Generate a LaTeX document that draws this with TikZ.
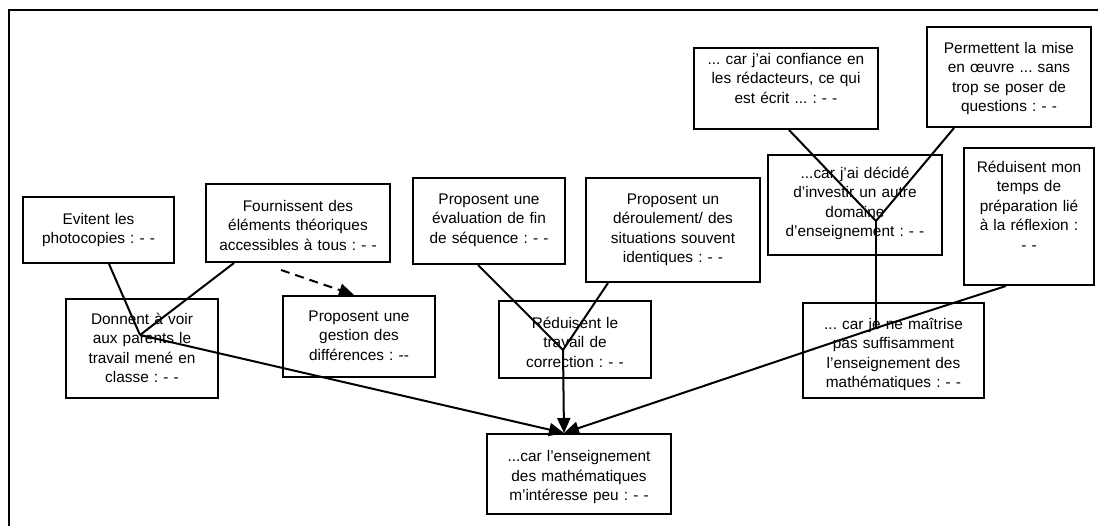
\documentclass[tikz,border=0pt]{standalone}
\usepackage{fontspec}
\setmainfont{Liberation Sans}
\frenchspacing
\usetikzlibrary{arrows.meta,calc}
\tikzset{
  boxst/.style={draw, line width=2pt, inner xsep=2pt, inner ysep=0pt, align=center,
    font=\fontsize{15.4}{19.5}\selectfont},
  conn/.style={line width=2pt},
  arr/.style={line width=2pt, -{Triangle[length=15pt,width=13pt]}},
  darr/.style={line width=2pt, dash pattern=on 9pt off 6pt, -{Triangle[length=15pt,width=13pt]}},
  frame/.style={line width=2.2pt}
}
\newcommand\mkbox[7]{%
  \pgfmathsetmacro\bxw{#4-#2-4}%
  \pgfmathsetmacro\bxh{#6+5.5}%
  \pgfmathsetmacro\bxd{#5-#3-#6-5.5}%
  \node[boxst, text width=\bxw pt, text height=\bxh pt, text depth=\bxd pt, anchor=north west] (#1) at (#2,#3) {#7};}
\begin{document}
\begin{tikzpicture}[x=1pt,y=-1pt]
\useasboundingbox[fill=white] (0,0) rectangle (1098,526);
% frame (top and left edges visible)
\coordinate (fa) at (9,526);
\coordinate (fb) at (9,10);
\coordinate (fc) at (1098,10);
\draw[frame] (fa) -- (fb) -- (fc);
% boxes
\mkbox{evi}{22}{196}{173}{262}{22}{Evitent les\\photocopies : - -}
\mkbox{fou}{205}{183}{389}{261}{22}{Fournissent des\\éléments théoriques\\accessibles à tous : - -}
\mkbox{don}{65}{298}{217}{397}{20}{Donnent à voir\\aux parents le\\travail mené en\\classe : - -}
\mkbox{ges}{282}{295}{434}{376}{20}{Proposent une\\gestion des\\différences : -{}-}
\mkbox{eva}{412}{177}{564}{263}{21}{Proposent une\\évaluation de fin\\de séquence : - -}
\mkbox{der}{585}{177}{759}{281}{21}{Proposent un\\déroulement/ des\\situations souvent\\identiques : - -}
\mkbox{cor}{498}{300}{650}{377}{22}{Réduisent le\\travail de\\correction : - -}
\mkbox{con}{693}{47}{877}{128}{11}{... car j’ai confiance en\\les rédacteurs, ce qui\\est écrit ... : - -}
\mkbox{per}{926}{26}{1090}{126}{21}{Permettent la mise\\en œuvre ... sans\\trop se poser de\\questions : - -}
\mkbox{dec}{767}{154}{941}{254}{18}{...car j’ai décidé\\d’investir un autre\\domaine\\d’enseignement : - -}
\mkbox{rmt}{963}{147}{1093}{284}{19}{Réduisent mon\\temps de\\préparation lié\\à la réflexion :\\- -}
\mkbox{mai}{802}{302}{983}{397}{21}{... car je ne maîtrise\\pas suffisamment\\l’enseignement des\\mathématiques : - -}
\mkbox{tg}{486}{433}{670}{513}{22}{...car l’enseignement\\des mathématiques\\m’intéresse peu : - -}
% junctions
\coordinate (j1) at (140,335);
\coordinate (j2) at (563,350);
\coordinate (j3) at (876,221);
\coordinate (j4) at (876,328);
\coordinate (tip) at ([xshift=-15pt]tg.north);
% connectors
\draw[conn] ([xshift=10.5pt]evi.south) -- (j1);
\draw[conn] ([xshift=-64pt]fou.south) -- (j1);
\draw[arr] (j1) -- (tip);
\draw[darr] ([xshift=-17pt,yshift=-7pt]fou.south) -- ([xshift=-5pt]ges.north);
\draw[conn] ([xshift=-11pt]eva.south) -- (j2);
\draw[conn] ([xshift=-65pt]der.south) -- (j2);
\draw[arr] (j2) -- (tip);
\draw[conn] ([xshift=3pt]con.south) -- (j3);
\draw[conn] ([xshift=-55pt]per.south) -- (j3);
\draw[conn] (j3) -- (j4);
\draw[arr] ([xshift=-23pt]rmt.south) -- (j4) -- (tip);
\end{tikzpicture}
\end{document}
